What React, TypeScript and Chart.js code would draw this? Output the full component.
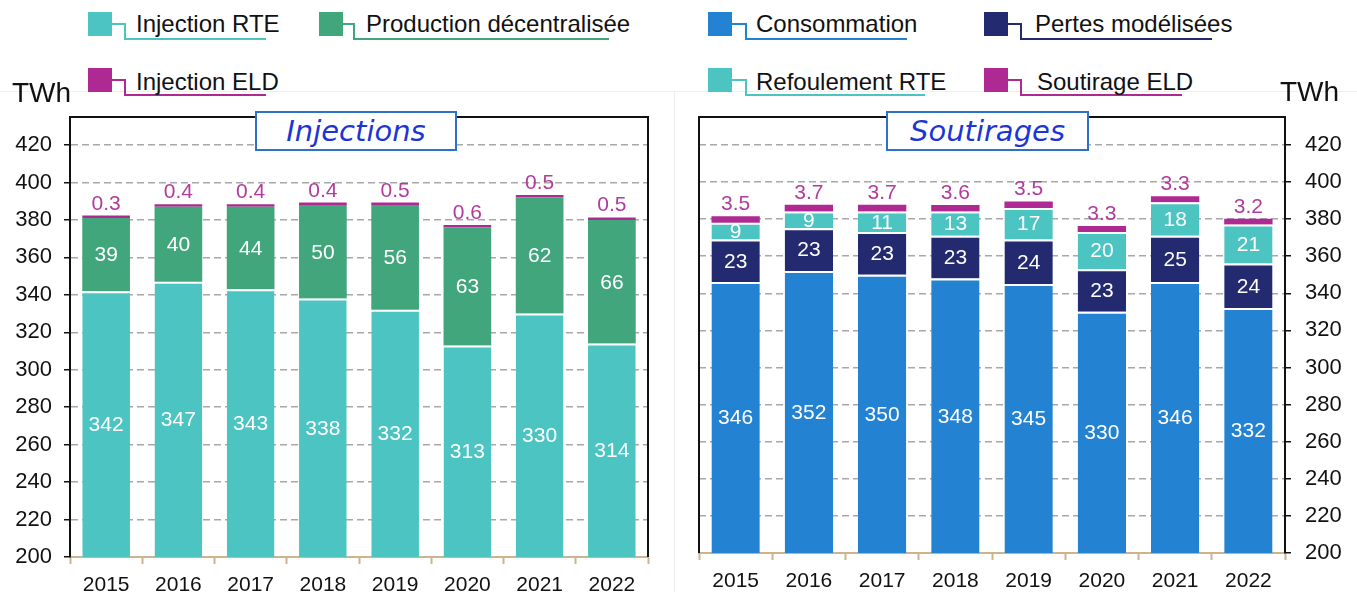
import React, { useEffect, useRef } from 'react';
import { Chart, registerables } from 'chart.js';

Chart.register(...registerables);

// ---------- DATA ----------
const years = ['2015', '2016', '2017', '2018', '2019', '2020', '2021', '2022'];

const injectionRTE = [342, 347, 343, 338, 332, 313, 330, 314];
const productionDecentralisee = [39, 40, 44, 50, 56, 63, 62, 66];
const injectionELD = [0.3, 0.4, 0.4, 0.4, 0.5, 0.6, 0.5, 0.5];

const consommation = [346, 352, 350, 348, 345, 330, 346, 332];
const pertesModelisees = [23, 23, 23, 23, 24, 23, 25, 24];
const refoulementRTE = [9, 9, 11, 13, 17, 20, 18, 21];
const soutirageELD = [3.5, 3.7, 3.7, 3.6, 3.5, 3.3, 3.3, 3.2];

const yTickValues = [200, 220, 240, 260, 280, 300, 320, 340, 360, 380, 400, 420];
const yMin = 200;
const yMax = 435;

const unitLabel = 'TWh';
const leftTitle = 'Injections';
const rightTitle = 'Soutirages';

// ---------- STYLE ----------
const TEAL = '#4cc4c2';
const GREEN = '#42a67c';
const MAGENTA = '#ae2a92';
const MAGENTA_TEXT = '#b23b9e';
const BLUE = '#2482d3';
const NAVY = '#232a70';
const TAN = '#cdb48c';
const FONT = '"Liberation Sans", Arial, sans-serif';

const framePlugin = {
  id: 'frame',
  afterDraw(chart: any) {
    const { ctx, chartArea: a } = chart;
    ctx.save();
    ctx.strokeStyle = '#111';
    ctx.lineWidth = 2;
    ctx.beginPath();
    ctx.moveTo(a.left, a.bottom);
    ctx.lineTo(a.left, a.top);
    ctx.lineTo(a.right, a.top);
    ctx.lineTo(a.right, a.bottom);
    ctx.stroke();
    ctx.restore();
  },
};

const labelPlugin = {
  id: 'segLabels',
  afterDatasetsDraw(chart: any) {
    const { ctx, chartArea } = chart;
    chart.data.datasets.forEach((ds: any, di: number) => {
      const meta = chart.getDatasetMeta(di);
      meta.data.forEach((el: any, i: number) => {
        const v = ds.data[i];
        const { x, y, base } = el.getProps(['x', 'y', 'base'], true);
        ctx.save();
        ctx.font = `21px ${FONT}`;
        ctx.textAlign = 'center';
        if (ds.labelMode === 'above') {
          ctx.fillStyle = MAGENTA_TEXT;
          ctx.textBaseline = 'alphabetic';
          ctx.fillText(String(v), x, Math.min(y, base) - 6);
        } else {
          const yt = Math.max(Math.min(y, base), chartArea.top);
          const yb = Math.min(Math.max(y, base), chartArea.bottom);
          ctx.fillStyle = '#ffffff';
          ctx.textBaseline = 'middle';
          ctx.fillText(String(v), x, (yt + yb) / 2 + 1);
        }
        ctx.restore();
      });
    });
  },
};

function makeOptions(side: 'left' | 'right', xHeight: number, yWidth: number, tickPad: number) {
  return {
    animation: false,
    responsive: false,
    maintainAspectRatio: false,
    devicePixelRatio: 1,
    layout: {
      padding: side === 'left'
        ? { top: 17, right: 24, left: 0, bottom: 0 }
        : { top: 17, right: 0, left: 24, bottom: 0 },
    },
    plugins: { legend: { display: false }, tooltip: { enabled: false } },
    datasets: { bar: { barPercentage: 0.66, categoryPercentage: 1 } },
    scales: {
      x: {
        stacked: true,
        grid: {
          display: true,
          drawOnChartArea: false,
          drawTicks: true,
          tickLength: 7,
          tickColor: TAN,
          tickWidth: 2,
          offset: true,
        },
        border: { color: TAN, width: 2 },
        ticks: { color: '#111', font: { family: FONT, size: 21 }, padding: 9 },
        afterFit: (s: any) => { s.height = xHeight; s.paddingLeft = 0; s.paddingRight = 0; },
      },
      y: {
        stacked: true,
        position: side,
        min: yMin,
        max: yMax,
        afterBuildTicks: (s: any) => { s.ticks = yTickValues.map((v) => ({ value: v })); },
        grid: {
          color: '#a8a8a8',
          lineWidth: 1.5,
          tickColor: '#111',
          tickLength: 6,
          tickWidth: 1.5,
          tickBorderDash: [],
        },
        border: { color: '#111', width: 2, dash: [7, 4] },
        ticks: { color: '#111', font: { family: FONT, size: 22 }, padding: tickPad },
        afterFit: (s: any) => { s.width = yWidth; s.paddingTop = 0; s.paddingBottom = 0; },
      },
    },
  };
}

const sepBorder = { top: 2, left: 0, right: 0, bottom: 0 };

function BarPanel(props: { side: 'left' | 'right'; left: number; width: number }) {
  const ref = useRef<HTMLCanvasElement>(null);
  useEffect(() => {
    if (!ref.current) return;
    let datasets: any[];
    if (props.side === 'left') {
      datasets = [
        { label: 'Injection RTE', data: injectionRTE, backgroundColor: TEAL, borderColor: '#fff', borderWidth: sepBorder, labelMode: 'inside' },
        { label: 'Production décentralisée', data: productionDecentralisee, backgroundColor: GREEN, borderColor: '#fff', borderWidth: 0, labelMode: 'inside' },
        { label: 'Injection ELD', data: injectionELD, backgroundColor: MAGENTA, borderWidth: 0, minBarLength: 2.5, labelMode: 'above' },
      ];
    } else {
      datasets = [
        { label: 'Consommation', data: consommation, backgroundColor: BLUE, borderColor: '#fff', borderWidth: sepBorder, labelMode: 'inside' },
        { label: 'Pertes modélisées', data: pertesModelisees, backgroundColor: NAVY, borderColor: '#fff', borderWidth: sepBorder, labelMode: 'inside' },
        { label: 'Refoulement RTE', data: refoulementRTE, backgroundColor: TEAL, borderColor: '#fff', borderWidth: sepBorder, labelMode: 'inside' },
        { label: 'Soutirage ELD', data: soutirageELD, backgroundColor: MAGENTA, borderWidth: 0, labelMode: 'above' },
      ];
    }
    const opts = props.side === 'left' ? makeOptions('left', 35, 70, 12) : makeOptions('right', 39, 72, 14);
    const chart = new Chart(ref.current, {
      type: 'bar',
      data: { labels: years, datasets },
      options: opts as any,
      plugins: [framePlugin, labelPlugin],
    });
    return () => chart.destroy();
  }, []);
  return (
    <canvas
      ref={ref}
      width={props.width}
      height={492}
      style={{ position: 'absolute', left: props.left, top: 100, width: props.width, height: 492 }}
    />
  );
}

type LegendItem = { label: string; color: string; sx: number; sy: number; elbow: number; lineY: number; end: number; tx: number; ty: number };

const legendItems: LegendItem[] = [
  { label: 'Injection RTE', color: TEAL, sx: 88, sy: 12, elbow: 124, lineY: 40, end: 266, tx: 136, ty: 12 },
  { label: 'Production décentralisée', color: GREEN, sx: 319, sy: 12, elbow: 353, lineY: 40, end: 609, tx: 366, ty: 12 },
  { label: 'Injection ELD', color: MAGENTA, sx: 88, sy: 68, elbow: 124, lineY: 96, end: 266, tx: 136, ty: 70 },
  { label: 'Consommation', color: BLUE, sx: 708, sy: 12, elbow: 745, lineY: 40, end: 907, tx: 756, ty: 12 },
  { label: 'Pertes modélisées', color: NAVY, sx: 984, sy: 12, elbow: 1020, lineY: 40, end: 1212, tx: 1035, ty: 12 },
  { label: 'Refoulement RTE', color: TEAL, sx: 708, sy: 68, elbow: 745, lineY: 96, end: 925, tx: 756, ty: 70 },
  { label: 'Soutirage ELD', color: MAGENTA, sx: 984, sy: 68, elbow: 1020, lineY: 96, end: 1182, tx: 1037, ty: 70 },
];

function Legend() {
  return (
    <>
      {legendItems.map((it) => (
        <React.Fragment key={it.label}>
          <div style={{ position: 'absolute', left: it.sx, top: it.sy, width: 24, height: 24, background: it.color }} />
          <div style={{ position: 'absolute', left: it.sx + 24, top: it.sy + 11, width: it.elbow - it.sx - 24 + 2, height: 2, background: it.color }} />
          <div
            style={{
              position: 'absolute', left: it.elbow, top: it.sy + 11, width: it.end - it.elbow,
              height: it.lineY - it.sy - 11, borderLeft: `2px solid ${it.color}`, borderBottom: `2px solid ${it.color}`,
              boxSizing: 'border-box',
            }}
          />
          <div style={{ position: 'absolute', left: it.tx, top: it.ty, font: `24px ${FONT}`, lineHeight: '24px', color: '#111', whiteSpace: 'nowrap' }}>
            {it.label}
          </div>
        </React.Fragment>
      ))}
    </>
  );
}

function TitleBox(props: { text: string; left: number; width: number }) {
  return (
    <div
      style={{
        position: 'absolute', left: props.left, top: 111, width: props.width, height: 40,
        border: '2px solid #2c72c8', background: '#fff', boxSizing: 'border-box',
        display: 'flex', alignItems: 'center', justifyContent: 'center',
        font: 'italic 29px "DejaVu Sans", sans-serif', color: '#1d35d5', whiteSpace: 'nowrap',
      }}
    >
      {props.text}
    </div>
  );
}

export default function App() {
  return (
    <div style={{ position: 'fixed', left: 0, top: 0, width: 1357, height: 592, background: '#fff', overflow: 'hidden' }}>
      <div style={{ position: 'absolute', left: 0, top: 91, width: 1357, height: 1, background: '#efefef' }} />
      <div style={{ position: 'absolute', left: 674, top: 91, width: 1, height: 501, background: '#efefef' }} />
      <BarPanel side="left" left={0} width={672} />
      <BarPanel side="right" left={675} width={682} />
      <Legend />
      <div style={{ position: 'absolute', left: 12, top: 79, font: `28px ${FONT}`, lineHeight: '28px', color: '#111' }}>{unitLabel}</div>
      <div style={{ position: 'absolute', left: 1280, top: 78, font: `28px ${FONT}`, lineHeight: '28px', color: '#111' }}>{unitLabel}</div>
      <TitleBox text={leftTitle} left={255} width={202} />
      <TitleBox text={rightTitle} left={886} width={203} />
    </div>
  );
}
